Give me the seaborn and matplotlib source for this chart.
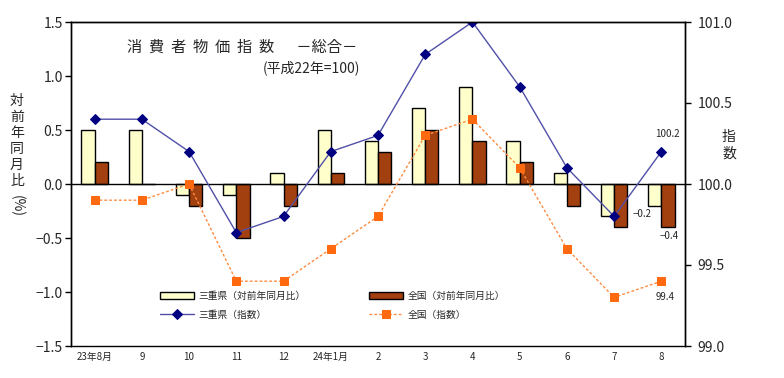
import numpy as np
import pandas as pd
import matplotlib
matplotlib.use("Agg")
import matplotlib.pyplot as plt
import seaborn as sns

sns.set_style("white")
plt.rcParams["font.family"] = ["Noto Sans CJK JP", "DejaVu Sans"]

# data
months = ["23年8月", "9", "10", "11", "12", "24年1月", "2", "3", "4", "5", "6", "7", "8"]
mie_yoy = [0.5, 0.5, -0.1, -0.1, 0.1, 0.5, 0.4, 0.7, 0.9, 0.4, 0.1, -0.3, -0.2]
nat_yoy = [0.2, 0.0, -0.2, -0.5, -0.2, 0.1, 0.3, 0.5, 0.4, 0.2, -0.2, -0.4, -0.4]
mie_idx = [100.4, 100.4, 100.2, 99.7, 99.8, 100.2, 100.3, 100.8, 101.0, 100.6, 100.1, 99.8, 100.2]
nat_idx = [99.9, 99.9, 100.0, 99.4, 99.4, 99.6, 99.8, 100.3, 100.4, 100.1, 99.6, 99.3, 99.4]

lbl_mie_yoy = "三重県（対前年同月比）"
lbl_nat_yoy = "全国（対前年同月比）"
lbl_mie_idx = "三重県（指数）"
lbl_nat_idx = "全国（指数）"

bars = pd.DataFrame({
    "month": months * 2,
    "series": [lbl_mie_yoy] * len(months) + [lbl_nat_yoy] * len(months),
    "value": mie_yoy + nat_yoy,
})

fig = plt.figure(figsize=(7.84, 3.78), dpi=100)
ax = fig.add_axes([71 / 784, 1 - 346 / 378, 614 / 784, 324 / 378])

sns.barplot(data=bars, x="month", y="value", hue="series", order=months,
            hue_order=[lbl_mie_yoy, lbl_nat_yoy],
            palette=["#FFFFCC", "#A3400F"], width=0.56, edgecolor="black",
            linewidth=1, saturation=1, ax=ax)
ax.legend_.remove()
ax.set_xlim(-0.5, len(months) - 0.5)
ax.set_ylim(-1.5, 1.5)
ax.set_yticks(np.arange(-1.5, 1.51, 0.5))
ax.set_yticklabels([f"{v:.1f}".replace("-", "\u2212") for v in np.arange(-1.5, 1.51, 0.5)],
                   fontsize=10)
ax.set_xlabel("")
ax.set_ylabel("")

# zero line with category boundary ticks
ax.spines["bottom"].set_position(("data", 0))
ax.set_xticks(np.arange(-0.5, len(months), 1))
ax.set_xticklabels([])
ax.tick_params(axis="x", direction="out", length=4, width=1, color="black")
ax.tick_params(axis="y", direction="out", length=4, width=1, color="black", pad=2)
for s in ax.spines.values():
    s.set_color("black")
    s.set_linewidth(1)

sec = ax.secondary_xaxis(0)
sec.set_xticks(range(len(months)))
sec.set_xticklabels(months, fontsize=7)
sec.tick_params(length=0, pad=4)
sec.spines["bottom"].set_linewidth(1)
sec.spines["bottom"].set_color("black")

ax2 = ax.twinx()
xpos = np.arange(len(months))
sns.lineplot(x=xpos, y=mie_idx, ax=ax2, color="#5050A8", linewidth=1,
             marker="D", markersize=5, markerfacecolor="#000080",
             markeredgecolor="#000080", label=lbl_mie_idx)
sns.lineplot(x=xpos, y=nat_idx, ax=ax2, color="#FF8C40", linewidth=1,
             linestyle=(0, (2, 1.5)), marker="s", markersize=6,
             markerfacecolor="#FF6A10", markeredgecolor="#FF6A10",
             label=lbl_nat_idx)
ax2.legend_.remove()
ax2.set_ylim(99.0, 101.0)
ax2.set_yticks(np.arange(99.0, 101.01, 0.5))
ax2.set_yticklabels([f"{v:.1f}" for v in np.arange(99.0, 101.01, 0.5)], fontsize=10)
ax2.tick_params(axis="y", direction="out", length=4, width=1, color="black", pad=5)
for s in ax2.spines.values():
    s.set_color("black")
    s.set_linewidth(1)
ax2.spines["bottom"].set_visible(False)

# legend
h1, l1 = ax.get_legend_handles_labels()
h2, l2 = ax2.get_legend_handles_labels()
hd = dict(zip(l1 + l2, h1 + h2))
order = [lbl_mie_yoy, lbl_mie_idx, lbl_nat_yoy, lbl_nat_idx]
fig.legend([hd[k] for k in order], order, loc="upper left",
           bbox_to_anchor=(155 / 784, 1 - 286 / 378), ncol=2, frameon=False,
           fontsize=7, handlelength=3.5, handleheight=0.6, handletextpad=0.5,
           columnspacing=6.5, labelspacing=0.9, borderpad=0)

# annotations
ax2.annotate("100.2", xy=(12, mie_idx[-1]), xytext=(6, 18), textcoords="offset pixels",
             ha="center", va="center", fontsize=7)
ax2.annotate("99.4", xy=(12, nat_idx[-1]), xytext=(4, -16), textcoords="offset pixels",
             ha="center", va="center", fontsize=7)
ax.annotate(f"{mie_yoy[-1]}".replace("-", "\u2212"), xy=(11.86, mie_yoy[-1]),
            xytext=(-13, -8), textcoords="offset pixels", ha="center", va="center",
            fontsize=7)
ax.annotate(f"{nat_yoy[-1]}".replace("-", "\u2212"), xy=(12.14, nat_yoy[-1]),
            xytext=(1, -9), textcoords="offset pixels", ha="center", va="center",
            fontsize=7)

# titles and axis labels
fig.text(127 / 784, 1 - 47 / 378, "消  費  者  物  価  指  数　  －総合－", fontsize=11,
         ha="left", va="center")
fig.text(263 / 784, 1 - 68 / 378, "(平成22年=100)", fontsize=10, ha="left", va="center")
fig.text(17 / 784, 1 - 141 / 378, "対\n前\n年\n同\n月\n比", fontsize=10,
         ha="center", va="center", linespacing=1.2)
fig.text(17 / 784, 1 - 206 / 378, "(%)", fontsize=10, rotation=-90,
         ha="center", va="center")
fig.text(729 / 784, 1 - 145 / 378, "指\n数", fontsize=10, ha="center", va="center",
         linespacing=1.2)

fig.savefig("out.png", dpi=100)
plt.close(fig)
